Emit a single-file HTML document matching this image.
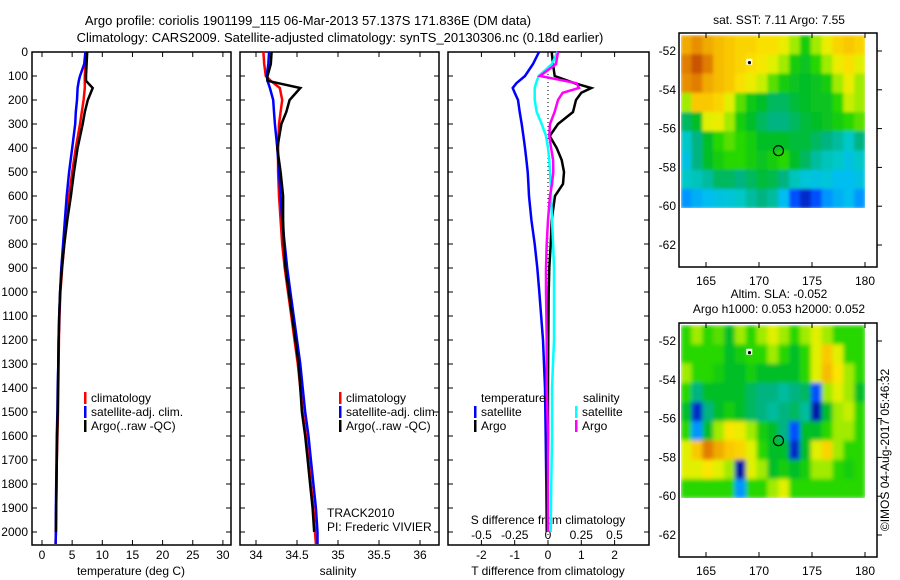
<!DOCTYPE html>
<html><head><meta charset="utf-8">
<style>
body{margin:0;background:#fff;}
svg{display:block;font-family:"Liberation Sans",sans-serif;}
text{fill:#000;}
</style></head>
<body>
<svg id="chart" width="900" height="580" viewBox="0 0 900 580" xmlns="http://www.w3.org/2000/svg">
<defs>
<filter id="blur" x="0" y="0" width="1" height="1"><feGaussianBlur stdDeviation="2.2" edgeMode="duplicate"/></filter>
<filter id="blur2" x="0" y="0" width="1" height="1"><feGaussianBlur stdDeviation="1.5" edgeMode="duplicate"/></filter>
<clipPath id="clipTop"><rect x="681" y="35" width="184" height="173"/></clipPath>
<clipPath id="clipBot"><rect x="681" y="325" width="184" height="173"/></clipPath>
</defs>
<text x="308" y="25" font-size="13" text-anchor="middle">Argo profile: coriolis 1901199_115 06-Mar-2013 57.137S 171.836E (DM data)</text>
<text x="340" y="42" font-size="13" text-anchor="middle">Climatology: CARS2009. Satellite-adjusted climatology: synTS_20130306.nc (0.18d earlier)</text>
<g id="g"></g>
<text transform="translate(889,450) rotate(-90)" font-size="12" text-anchor="middle">©IMOS 04-Aug-2017 05:46:32</text>
</svg>
<script>
// ---- Panel data ----
const depthTS = [0,50,100,120,150,200,250,300,400,500,600,700,800,900,1000,1100,1200,1300,1400,1500,1600,1700,1800,1900,2000,2050];
const tempArgo = [7.5,7.4,7.3,7.3,8.4,7.6,7.1,6.75,5.9,5.3,4.8,4.2,3.7,3.3,3.0,2.85,2.75,2.7,2.65,2.6,2.5,2.45,2.4,2.35,2.3];
const tempClim = [7.3,7.2,7.1,7.1,7.1,6.9,6.6,6.3,5.6,5.0,4.5,4.1,3.7,3.35,3.05,2.9,2.8,2.75,2.7,2.65,2.55,2.45,2.4,2.35,2.3,2.25];
const tempSat = [7.2,7.0,6.3,6.1,5.9,5.8,5.6,5.5,5.0,4.5,4.1,3.8,3.5,3.2,3.0,2.85,2.75,2.7,2.6,2.55,2.45,2.4,2.35,2.3,2.3,2.25];
const salArgo = [34.19,34.18,34.14,34.14,34.54,34.41,34.37,34.31,34.26,34.30,34.33,34.33,34.34,34.36,34.40,34.44,34.48,34.52,34.54,34.56,34.60,34.63,34.66,34.69,34.71];
const salClim = [34.09,34.10,34.12,34.18,34.29,34.32,34.30,34.28,34.27,34.27,34.28,34.30,34.32,34.35,34.39,34.43,34.47,34.51,34.54,34.57,34.61,34.64,34.67,34.70,34.72,34.73];
const salSat = [34.16,34.15,34.13,34.14,34.17,34.21,34.22,34.23,34.26,34.28,34.30,34.32,34.35,34.38,34.42,34.46,34.50,34.54,34.57,34.60,34.64,34.67,34.70,34.73,34.75,34.75];
const depthDiff = [0,50,100,130,150,170,200,250,300,350,400,450,500,550,600,700,800,900,1000,1200,1400,1600,1800,2000];
const tDiffSat = [-0.27,-0.45,-0.69,-0.95,-1.06,-1.0,-0.9,-0.85,-0.79,-0.74,-0.69,-0.65,-0.61,-0.59,-0.57,-0.5,-0.4,-0.32,-0.26,-0.15,-0.09,-0.07,-0.05,-0.04];
const tDiffArgo = [0.11,0.15,0.2,0.8,1.3,1.0,0.84,0.75,0.3,0.05,0.26,0.41,0.48,0.45,0.21,0.11,0.08,0.04,0.02,0.01,0.0,0.0,-0.02,-0.02];
const sDiffSat = [0.07,0.03,-0.07,-0.09,-0.1,-0.1,-0.1,-0.085,-0.047,-0.015,0.0,0.01,0.015,0.02,0.023,0.03,0.038,0.045,0.045,0.045,0.03,0.03,0.025,0.02];
const sDiffArgo = [0.075,0.06,-0.06,0.215,0.233,0.11,0.075,0.05,0.015,0.01,0.023,0.038,0.04,0.03,0.015,0.0,-0.01,-0.015,-0.015,-0.01,-0.01,0.0,0.0,0.0];
const depthTicks = [0,100,200,300,400,500,600,700,800,900,1000,1100,1200,1300,1400,1500,1600,1700,1800,1900,2000];
const tempTicks = [0,5,10,15,20,25,30];
const salTicks = [34,34.5,35,35.5,36];
const salTickLabels = ["34","34.5","35","35.5","36"];
const tdTicks = [-2,-1,0,1,2];
const sdTicks = [-0.5,-0.25,0,0.25,0.5];
const sdTickLabels = ["-0.5","-0.25","0","0.25","0.5"];
// ---- Map data (colormap index 0..1), rows north (-51) to south (-60), cols lon 162.6..180 ----
const sstGrid = [
[0.75,0.78,0.75,0.72,0.7,0.68,0.68,0.66,0.66,0.62,0.55,0.48,0.55,0.62,0.68,0.7,0.68],
[0.8,0.85,0.8,0.72,0.7,0.68,0.66,0.64,0.6,0.55,0.48,0.46,0.5,0.55,0.62,0.66,0.6],
[0.78,0.8,0.75,0.72,0.7,0.66,0.62,0.58,0.52,0.48,0.46,0.45,0.46,0.48,0.55,0.62,0.55],
[0.55,0.7,0.7,0.68,0.6,0.52,0.47,0.45,0.42,0.42,0.44,0.45,0.46,0.46,0.5,0.58,0.55],
[0.42,0.45,0.6,0.62,0.55,0.48,0.45,0.42,0.4,0.4,0.42,0.44,0.45,0.46,0.48,0.5,0.52],
[0.35,0.4,0.45,0.5,0.52,0.5,0.48,0.45,0.45,0.45,0.44,0.44,0.42,0.4,0.38,0.35,0.4],
[0.32,0.4,0.45,0.48,0.5,0.5,0.48,0.46,0.48,0.5,0.45,0.42,0.38,0.36,0.35,0.32,0.35],
[0.35,0.36,0.38,0.42,0.42,0.4,0.42,0.44,0.43,0.4,0.36,0.33,0.32,0.33,0.3,0.3,0.32],
[0.25,0.28,0.3,0.32,0.33,0.35,0.38,0.4,0.38,0.3,0.2,0.15,0.2,0.25,0.28,0.3,0.25]];
const slaGrid = [
[0.5,0.55,0.5,0.52,0.45,0.55,0.5,0.55,0.6,0.55,0.5,0.55,0.6,0.55,0.5,0.5,0.5],
[0.5,0.5,0.5,0.5,0.45,0.48,0.5,0.5,0.55,0.5,0.45,0.5,0.6,0.7,0.6,0.5,0.5],
[0.55,0.5,0.5,0.48,0.45,0.45,0.48,0.45,0.45,0.45,0.45,0.5,0.6,0.72,0.65,0.55,0.5],
[0.5,0.4,0.45,0.45,0.45,0.45,0.42,0.4,0.4,0.38,0.4,0.42,0.2,0.55,0.6,0.55,0.45],
[0.45,0.15,0.4,0.45,0.48,0.45,0.42,0.4,0.38,0.4,0.42,0.38,0.12,0.45,0.55,0.58,0.5],
[0.5,0.25,0.45,0.55,0.65,0.62,0.55,0.48,0.45,0.4,0.2,0.45,0.45,0.5,0.55,0.55,0.5],
[0.6,0.7,0.8,0.75,0.7,0.68,0.6,0.5,0.45,0.45,0.15,0.45,0.6,0.68,0.55,0.5,0.5],
[0.6,0.6,0.65,0.6,0.55,0.12,0.6,0.55,0.45,0.48,0.45,0.48,0.55,0.55,0.5,0.48,0.5],
[0.5,0.5,0.5,0.5,0.5,0.25,0.5,0.5,0.55,0.6,0.5,0.5,0.5,0.5,0.5,0.5,0.5]];
const lonTicks = [165,170,175,180];
const latTicks = [-52,-54,-56,-58,-60,-62];
const argoLon = 171.836, argoLat = -57.137;

const NS="http://www.w3.org/2000/svg";
const G=document.getElementById('g');
function mk(tag,attrs,parent){const e=document.createElementNS(NS,tag);for(const k in attrs)e.setAttribute(k,attrs[k]);(parent||G).appendChild(e);return e;}
function txt(x,y,s,size,anchor,parent){const t=mk('text',{x:x,y:y,'font-size':size,'text-anchor':anchor||'start'},parent);t.textContent=s;return t;}

const yD=d=>52+d*0.24;
const PB=545;
const xT=v=>42+v*6.03;
const xS=v=>256+(v-34)*82;
const xTD=v=>548+v*33.3;
const xSD=v=>548+v*133;

function frame(x0,x1,name){const r=mk('rect',{x:x0,y:52,width:x1-x0,height:PB-52,fill:'none',stroke:'#000','stroke-width':1.5});}
function xticks(ticks,labels,fx,name){const g=mk('g',{});
 ticks.forEach((t,i)=>{const x=fx(t);mk('line',{x1:x,x2:x,y1:52,y2:57,stroke:'#000'},g);mk('line',{x1:x,x2:x,y1:PB,y2:PB-5,stroke:'#000'},g);txt(x,559,labels[i],12,'middle',g);});}
function line(xs,ds,fx,color,name){let p='';for(let i=0;i<xs.length;i++){p+=(i?'L':'M')+fx(xs[i]).toFixed(1)+','+yD(ds[i]).toFixed(1);}const l=mk('path',{d:p,fill:'none',stroke:color,'stroke-width':2.5,'stroke-linejoin':'miter'});}
function legend(x,y,color,label,name){const g=mk('g',{});mk('rect',{x:x,y:y-10,width:2.5,height:12,fill:color},g);if(label)txt(x+7,y,label,12,'start',g);}

// Panel 1
frame(32,231,'temperature-panel');
const yax=mk('g',{});
depthTicks.forEach(d=>{const y=yD(d);txt(28,y+4,String(d),12,'end',yax);mk('line',{x1:32,x2:37,y1:y,y2:y,stroke:'#000'},yax);mk('line',{x1:231,x2:226,y1:y,y2:y,stroke:'#000'},yax);});
xticks(tempTicks,tempTicks.map(String),xT,'temperature-x-axis');
line(tempClim,depthTS,xT,'#ff0000','temp-climatology-line');
line(tempSat,depthTS,xT,'#0000ff','temp-satellite-line');
line(tempArgo,depthTS,xT,'#000000','temp-argo-line');
txt(131,575,'temperature (deg C)',12,'middle');
legend(84,402,'#ff0000','climatology','legend-climatology');
legend(84,416,'#0000ff','satellite-adj. clim.','legend-satellite-adj');
legend(84,430,'#000000','Argo(..raw -QC)','legend-argo');

// Panel 2
frame(240,439,'salinity-panel');
depthTicks.forEach(d=>{const y=yD(d);mk('line',{x1:240,x2:245,y1:y,y2:y,stroke:'#000'});mk('line',{x1:439,x2:434,y1:y,y2:y,stroke:'#000'});});
xticks(salTicks,salTickLabels,xS,'salinity-x-axis');
line(salClim,depthTS,xS,'#ff0000','sal-climatology-line');
line(salSat,depthTS,xS,'#0000ff','sal-satellite-line');
line(salArgo,depthTS,xS,'#000000','sal-argo-line');
txt(338,575,'salinity',12,'middle');
legend(339,402,'#ff0000','climatology','legend-sal-climatology');
legend(339,416,'#0000ff','satellite-adj. clim.','legend-sal-satellite-adj');
legend(339,430,'#000000','Argo(..raw -QC)','legend-sal-argo');
txt(327,517,'TRACK2010',12,'start');
txt(327,531,'PI: Frederic VIVIER',12,'start');

// Panel 3
frame(448,649,'difference-panel');
mk('line',{x1:548,x2:548,y1:70,y2:540,stroke:'#000','stroke-dasharray':'1,3'});
depthTicks.forEach(d=>{const y=yD(d);mk('line',{x1:448,x2:453,y1:y,y2:y,stroke:'#000'});mk('line',{x1:649,x2:644,y1:y,y2:y,stroke:'#000'});});
xticks(tdTicks,tdTicks.map(String),xTD,'t-diff-x-axis');
const sax=mk('g',{});
sdTicks.forEach((t,i)=>txt(xSD(t),539,sdTickLabels[i],12,'middle',sax));
txt(548,524,'S difference from climatology',12,'middle');
line(tDiffSat,depthDiff,xTD,'#0000ff','t-diff-satellite-line');
line(tDiffArgo,depthDiff,xTD,'#000000','t-diff-argo-line');
line(sDiffSat,depthDiff,xSD,'#00ffff','s-diff-satellite-line');
line(sDiffArgo,depthDiff,xSD,'#ff00ff','s-diff-argo-line');
txt(548,575,'T difference from climatology',12,'middle');
txt(481,402,'temperature',12,'start');
txt(583,402,'salinity',12,'start');
legend(474,416,'#0000ff','satellite','legend-t-satellite');
legend(474,430,'#000000','Argo','legend-t-argo');
legend(575,416,'#00ffff','satellite','legend-s-satellite');
legend(575,430,'#ff00ff','Argo','legend-s-argo');

// Colormap
const cmStops=[[0,[0,0,120]],[0.12,[0,20,170]],[0.2,[0,80,255]],[0.25,[0,150,255]],[0.3,[0,190,240]],[0.35,[0,200,200]],[0.4,[0,180,130]],[0.45,[0,190,40]],[0.5,[40,215,0]],[0.55,[160,235,0]],[0.6,[225,240,0]],[0.65,[250,230,0]],[0.7,[250,200,0]],[0.75,[240,170,0]],[0.8,[225,125,0]],[0.85,[200,85,0]],[1,[150,30,0]]];
function cmap(v){v=Math.max(0,Math.min(1,v));for(let i=1;i<cmStops.length;i++){if(v<=cmStops[i][0]){const a=cmStops[i-1],b=cmStops[i],t=(v-a[0])/(b[0]-a[0]);return 'rgb('+[0,1,2].map(k=>Math.round(a[1][k]+t*(b[1][k]-a[1][k]))).join(',')+')';}}return 'rgb(150,30,0)';}
function map(y0,grid,clip,filt,title1,title2,name){
 const lonX=l=>706+(l-165)*10.6;
 const latY=l=>y0+51+(-52-l)*19.4;
 const g=mk('g',{});
 const hm=mk('g',{'clip-path':'url(#'+clip+')'},g);
 const inner=mk('g',{filter:'url(#'+filt+')'},hm);
 const lon0=162.6,lat0=-51.18,dLon=17.4/17,dLat=8.92/9;
 grid.forEach((row,r)=>row.forEach((v,c)=>{const x=lonX(lon0+c*dLon),y=latY(lat0-r*dLat);const cell=mk('rect',{x:x.toFixed(1),y:y.toFixed(1),width:(dLon*10.6+0.6).toFixed(1),height:(dLat*19.4+0.6).toFixed(1),fill:cmap(v)},inner);}));
 const fr=mk('rect',{x:679,y:y0+33,width:198,height:234,fill:'none',stroke:'#000','stroke-width':1.5},g);
 lonTicks.forEach(l=>{const x=lonX(l);mk('line',{x1:x,x2:x,y1:y0+33,y2:y0+38,stroke:'#000'},g);mk('line',{x1:x,x2:x,y1:y0+267,y2:y0+262,stroke:'#000'},g);txt(x,y0+285,String(l),12,'middle',g);});
 latTicks.forEach(l=>{const y=latY(l);txt(676,y+4,String(l),12,'end',g);mk('line',{x1:877,x2:882,y1:y,y2:y,stroke:'#000'},g);});
 mk('rect',{x:lonX(168.8),y:latY(-52.4),width:6,height:6,fill:'#fff'},g);
 mk('circle',{cx:lonX(169.1),cy:latY(-52.6),r:1.6,fill:'#000'},g);
 const c=mk('circle',{cx:lonX(argoLon),cy:latY(argoLat),r:5,fill:'none',stroke:'#000','stroke-width':1.2},g);
 if(title2){txt(779,y0+8,title1,12,'middle',g);txt(779,y0+23,title2,12,'middle',g);}else txt(779,y0+24,title1,12,'middle',g);
}
map(0,sstGrid,'clipTop','blur2','sat. SST: 7.11 Argo: 7.55',null,'sst-map');
map(290,slaGrid,'clipBot','blur','Altim. SLA: -0.052','Argo h1000: 0.053 h2000: 0.052','sla-map');
</script>
</body></html>
